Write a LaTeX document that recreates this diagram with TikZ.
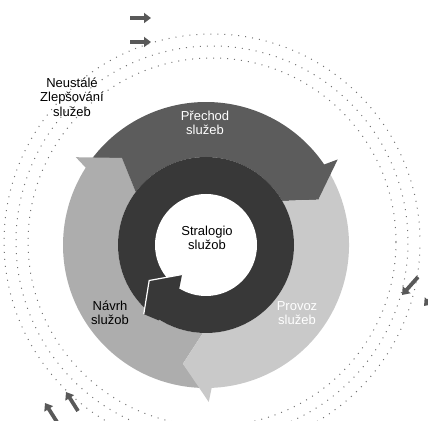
\documentclass[tikz,border=0pt]{standalone}
\usepackage{fontspec}
\setmainfont{Liberation Sans}
\usetikzlibrary{arrows.meta}
\definecolor{prechod}{gray}{0.36}
\definecolor{strat}{gray}{0.22}
\definecolor{navrh}{gray}{0.68}
\definecolor{provoz}{gray}{0.79}
\definecolor{dotgray}{gray}{0.45}
% color, tail angle, head angle, tip offset (head), tip offset (tail notch)
\newcommand{\ringseg}[5]{%
  \fill[#1] (#2:143) arc[start angle=#2,end angle=#3,radius=143] -- ({#3-#4}:121)
    -- (#3:88) arc[start angle=#3,end angle=#2,radius=88] -- ({#2-#5}:121) -- cycle;}
% color, head angle, tip offset
\newcommand{\ringbarb}[3]{%
  \fill[#1] ({#2+5}:136) -- ({#2+3}:157) -- ({#2-#3}:121) -- (#2:121) -- cycle;}
\tikzset{
  lbl/.style={align=center, font=\fontsize{13}{14.5}\selectfont, inner sep=0pt},
  deco/.style={draw=black!65, line width=3.8pt, -{Triangle[width=10pt,length=7pt]}},
  dots/.style={dotgray, line width=1pt, dash pattern=on 1pt off 6pt}
}
\begin{document}
\begin{tikzpicture}[x=1pt,y=1pt]
\useasboundingbox (0,0) rectangle (428,420);
\begin{scope}
\clip (0,0) rectangle (428,420);
% faint dotted outer circles
\draw[dots] (212,178) circle[radius=184];
\draw[dots, dash phase=3pt] (212,178) circle[radius=196];
\draw[dots, dash phase=1.5pt] (212,178) circle[radius=208];
\end{scope}
\begin{scope}[shift={(206,175)}]
\coordinate (c) at (0,0);
% outer ring segments (clockwise flow)
\ringseg{navrh}{268}{143}{9}{9}
\ringseg{prechod}{143}{30}{8}{9}
\ringseg{provoz}{30}{-92}{9}{8}
\ringbarb{navrh}{143}{9}
\ringbarb{prechod}{30}{8}
\ringbarb{provoz}{-92}{9}
% inner ring (strategy)
\fill[strat] (c) circle[radius=88];
\fill[white] (c) circle[radius=51];
\fill[strat] (238:50) -- (231:38) -- (212:67) -- (228:93) -- (238:89) -- cycle;
\draw[white, line width=1.2pt, line join=miter] (231:38) -- (212:67) -- (228:93);
\end{scope}
% labels
\node[lbl] (neu) at (72,323) {Neustálé\\Zlepšování\\služeb};
\node[lbl, text=white] (pre) at (205,297) {Přechod\\služeb};
\node[lbl] (str) at (207,182) {Stralogio\\služob};
\node[lbl] (nav) at (110,107) {Návrh\\služob};
\node[lbl, text=white] (pro) at (297,107) {Provoz\\služeb};
% small decorative arrows
\coordinate (t1a) at (130,402); \coordinate (t1b) at (151,402);
\coordinate (t2a) at (130,378); \coordinate (t2b) at (151,378);
\coordinate (b1a) at (57,-2);   \coordinate (b1b) at (45,17);
\coordinate (b2a) at (78,9);    \coordinate (b2b) at (66,28);
\coordinate (r1a) at (418,143); \coordinate (r1b) at (402,125);
\coordinate (r2a) at (440,132); \coordinate (r2b) at (424,114);
\begin{scope}
\clip (0,0) rectangle (428,420);
\draw[deco] (t1a) -- (t1b);
\draw[deco] (t2a) -- (t2b);
\draw[deco] (b1a) -- (b1b);
\draw[deco] (b2a) -- (b2b);
\draw[deco] (r1a) -- (r1b);
\draw[deco] (r2a) -- (r2b);
\end{scope}
\end{tikzpicture}
\end{document}
